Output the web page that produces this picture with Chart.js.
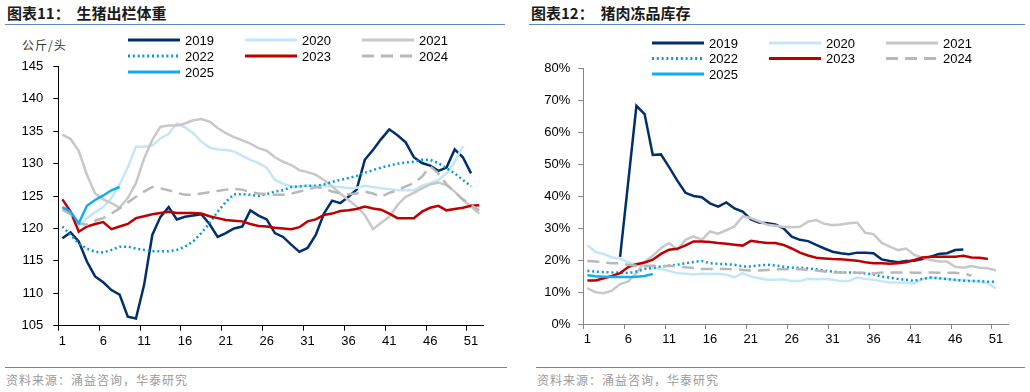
<!DOCTYPE html>
<html>
<head>
<meta charset="utf-8">
<script src="https://cdn.jsdelivr.net/npm/chart.js@4/dist/chart.umd.min.js"></script>
<style>
    body { margin: 0; background: #fff; }
    #page { position: relative; width: 1030px; height: 392px; overflow: hidden; font-family: "Noto Sans CJK SC", sans-serif; }
    .title { position: absolute; top: 3px; font-size: 15px; font-weight: bold; color: #1a1a1a; line-height: 20px; white-space: pre; }
    .rule { position: absolute; height: 1px; background: #5f86c0; }
    .source { position: absolute; top: 372px; font-size: 12px; color: #9a9a9a; letter-spacing: 1px; line-height: 16px; }
    .unit { position: absolute; left: 22px; top: 36px; font-size: 12px; color: #333; letter-spacing: 1px; }
    canvas { position: absolute; top: 30px; }
</style>
</head>
<body>
<div id="page">
    <div class="title" style="left:7px">图表11：  生猪出栏体重</div>
    <div class="rule" style="left:5px; width:500px; top:24px"></div>
    <div class="title" style="left:531px">图表12：  猪肉冻品库存</div>
    <div class="rule" style="left:529px; width:496px; top:24px"></div>
    <div class="unit">公斤/头</div>
    <canvas id="weight" width="510" height="340" style="left:0"></canvas>
    <canvas id="stock" width="505" height="340" style="left:525px"></canvas>
    <div class="rule" style="left:5px; width:502px; top:367px"></div>
    <div class="rule" style="left:536px; width:489px; top:367px"></div>
    <div class="source" style="left:6px">资料来源：涌益咨询，华泰研究</div>
    <div class="source" style="left:537px">资料来源：涌益咨询，华泰研究</div>
</div>
<script>
const weeks = ['1','2','3','4','5','6','7','8','9','10','11','12','13','14','15','16','17','18','19','20',
    '21','22','23','24','25','26','27','28','29','30','31','32','33','34','35','36','37','38','39','40',
    '41','42','43','44','45','46','47','48','49','50','51','52'];
const years = ['2019', '2020', '2021', '2022', '2023', '2024', '2025'];

// 生猪出栏体重 (公斤/头)
const weight2019 = [118.5,119.4,118.0,114.9,112.6,111.7,110.5,109.8,106.4,106.1,
    111.3,119.0,121.8,123.3,121.4,121.8,122.0,122.2,120.7,118.7,
    119.3,120.0,120.3,122.8,122.0,121.4,119.3,118.7,117.5,116.4,
    117.0,119.0,122.3,124.3,123.9,124.9,126.0,130.6,132.1,133.8,
    135.3,134.4,133.3,131.0,130.1,129.7,128.9,129.4,132.2,131.0,
    128.5];
const weight2020 = [123.0,122.3,120.3,121.6,122.5,123.3,124.7,126.8,129.4,132.6,
    132.6,132.8,133.9,134.6,136.2,135.6,134.7,133.4,132.5,132.2,
    132.1,131.9,131.2,130.6,130.1,129.4,127.5,126.9,126.5,126.5,
    126.6,126.5,126.6,126.5,126.4,126.2,126.3,126.6,126.4,126.2,
    126.1,125.9,125.9,125.9,126.6,127.0,127.5,128.5,130.3,132.7];
const weight2021 = [134.5,133.8,132.0,128.3,125.4,124.5,123.9,123.2,124.7,127.0,
    130.8,133.7,135.7,135.9,135.9,136.2,136.7,136.9,136.5,135.5,
    134.7,134.1,133.6,133.1,132.4,132.0,131.0,130.3,129.8,129.0,
    128.7,128.3,127.5,126.5,125.4,124.4,123.4,122.1,119.9,120.9,
    121.8,123.6,124.9,125.5,126.2,126.8,127.1,126.7,125.7,124.4,
    123.4,122.3];
const weight2022 = [120.3,119.0,117.7,116.9,116.4,116.3,116.7,117.2,117.2,116.9,
    116.7,116.5,116.5,116.5,116.7,117.2,118.0,119.3,120.8,122.6,
    124.1,125.3,125.3,125.2,125.0,125.3,125.7,125.9,126.4,126.5,
    126.6,126.6,126.8,127.2,127.5,127.8,128.1,128.6,129.0,129.4,
    129.7,130.0,130.2,130.3,130.6,130.6,130.1,129.3,128.5,127.5,
    126.5];
const weight2023 = [124.5,122.6,119.5,120.3,120.7,121.0,119.9,120.3,120.7,121.6,
    121.9,122.2,122.4,122.6,122.4,122.4,122.4,122.3,121.9,121.6,
    121.3,121.2,121.1,120.7,120.4,120.3,120.1,120.0,119.9,120.2,
    121.1,121.4,122.1,122.3,122.7,122.8,123.0,123.4,123.1,122.9,
    122.3,121.6,121.6,121.6,122.6,123.2,123.5,122.8,123.0,123.2,
    123.5,123.6];
const weight2024 = [122.9,122.2,120.8,120.6,121.2,121.6,122.3,123.1,124.0,124.9,
    125.7,126.4,126.2,125.9,125.5,125.2,125.2,125.4,125.6,125.8,
    126.0,126.1,126.0,125.6,125.4,125.3,125.2,125.2,125.4,125.7,
    126.0,126.4,126.2,125.7,125.4,125.3,125.4,125.7,125.4,124.9,
    125.5,125.9,126.5,127.0,128.0,129.6,128.5,126.8,125.6,124.5,
    123.6,122.8];
const weight2025 = [123.3,122.6,120.8,123.5,124.4,125.1,125.9,126.4];
const weightTicks = [105, 145, 5];

// 猪肉冻品库存 (%)
const stock2019 = [null,null,null,null,21.0,44.5,68.2,65.6,52.8,53.0,
    49.0,44.8,41.0,40.0,39.6,37.7,36.7,38.0,36.1,35.1,
    32.7,31.7,31.5,31.1,29.9,27.3,26.3,25.9,24.7,23.6,
    22.6,22.1,21.8,22.3,22.3,22.1,20.2,19.7,19.3,19.7,
    19.8,20.3,21.0,21.9,22.1,23.1,23.3];
const stock2020 = [24.6,22.5,21.9,20.8,20.4,19.3,18.7,18.0,17.5,17.2,
    16.6,15.9,15.7,15.5,15.7,15.6,15.7,15.4,14.6,15.9,
    14.8,14.3,13.8,13.8,14.0,13.4,13.4,14.1,14.0,14.1,
    13.8,13.4,13.4,14.5,14.1,13.8,13.4,13.0,13.0,12.9,
    12.7,14.1,14.6,14.3,14.1,13.8,13.8,13.4,13.2,12.7,
    11.1];
const stock2021 = [11.2,9.9,9.6,10.4,12.5,13.3,15.9,19.5,21.3,23.7,
    25.3,23.2,26.3,27.4,26.3,28.9,28.2,29.3,30.5,33.6,
    33.1,32.1,31.0,30.7,30.4,30.2,30.4,32.0,32.5,31.3,
    30.9,31.1,31.5,31.7,28.5,28.1,25.4,24.2,23.1,23.6,
    21.6,20.7,20.0,19.5,19.5,17.9,17.6,18.1,17.6,17.4,
    16.7];
const stock2022 = [16.6,16.4,16.2,16.1,16.1,15.9,16.4,17.2,17.5,18.0,
    18.2,18.5,19.0,19.4,19.7,19.0,18.8,18.7,18.5,18.0,
    18.0,18.3,18.5,18.3,17.9,17.6,17.6,17.4,17.1,16.7,
    16.4,16.1,16.1,16.0,15.8,15.5,14.8,14.5,14.1,13.8,
    13.5,14.1,14.5,14.3,14.0,13.8,13.5,13.4,13.4,13.2,
    13.2];
const stock2023 = [13.6,13.6,14.3,15.0,15.9,17.8,18.7,19.2,20.1,21.9,
    23.2,23.5,24.6,25.8,25.8,25.6,25.3,25.1,24.8,24.5,
    26.0,25.6,25.3,25.3,24.7,23.6,22.3,21.4,20.7,20.5,
    20.3,20.2,20.0,19.8,19.3,19.0,19.0,18.8,19.0,19.3,
    20.0,20.8,21.0,21.0,21.0,21.0,21.3,20.8,20.7,20.3];
const stock2024 = [19.7,19.5,19.2,19.0,19.0,18.5,18.2,18.2,18.2,18.0,
    18.2,18.0,17.7,17.5,17.2,17.2,17.2,17.2,17.1,16.9,
    16.7,16.7,16.9,17.1,17.1,17.1,17.1,16.9,16.7,16.4,
    16.1,16.1,16.1,16.0,16.0,15.8,16.1,16.1,16.1,16.1,
    16.0,16.0,16.1,16.0,16.0,16.0,15.8,15.1];
const stock2025 = [15.2,14.9,14.8,14.7,14.7,14.7,14.8,15.0,15.6];
const stockTicks = [0, 80, 10];

const lineColors = ['#00306b', '#c3e7f8', '#c8c8c8', '#0a9ad8', '#c00000', '#b8b8b8', '#10aef0'];
const lineDashes = [[], [], [], [2, 2.8], [], [12, 7], []];

Chart.defaults.font.family = '"Liberation Sans", Arial, sans-serif';
Chart.defaults.font.size = 13;
Chart.defaults.color = '#000';

// legend in three columns, drawn over the top of the plot
const gridLegend = {
    id: 'gridLegend',
    afterDraw(chart, args, opts) {
        const ctx = chart.ctx;
        chart.data.datasets.forEach((ds, i) => {
            const x = opts.x + (i % 3) * opts.colGap;
            const y = opts.y + Math.floor(i / 3) * opts.rowGap;
            ctx.save();
            ctx.strokeStyle = ds.borderColor;
            ctx.lineWidth = 3;
            ctx.setLineDash(ds.borderDash);
            ctx.beginPath();
            ctx.moveTo(x, y);
            ctx.lineTo(x + 52, y);
            ctx.stroke();
            ctx.setLineDash([]);
            ctx.fillStyle = '#000';
            ctx.font = '13px "Liberation Sans", Arial, sans-serif';
            ctx.textBaseline = 'middle';
            ctx.fillText(ds.label, x + 57, y + 1);
            ctx.restore();
        });
    }
};

function drawChart(id, series, yTicks, opt) {
    const datasets = series.map((values, i) => ({
        label: years[i],
        data: values,
        borderColor: lineColors[i],
        borderDash: lineDashes[i],
        borderWidth: 2.5,
        pointRadius: 0,
        tension: 0,
        fill: false,
        order: 10 - i
    }));
    return new Chart(document.getElementById(id), {
        type: 'line',
        data: { labels: weeks, datasets: datasets },
        plugins: [gridLegend],
        options: {
            responsive: false,
            animation: false,
            devicePixelRatio: 1,
            layout: { padding: opt.padding },
            plugins: {
                legend: { display: false },
                tooltip: { enabled: false },
                gridLegend: opt.legend
            },
            scales: {
                x: {
                    offset: true,
                    border: { color: opt.axisColor, width: 1 },
                    grid: {
                        offset: true,
                        drawOnChartArea: false,
                        tickLength: 5,
                        color: c => c.index % 5 === 0 ? opt.axisColor : 'rgba(0,0,0,0)'
                    },
                    ticks: {
                        autoSkip: false,
                        maxRotation: 0,
                        padding: 3,
                        callback: (v, i) => i % 5 === 0 ? weeks[i] : ''
                    },
                    afterFit: s => { s.height = 30; }
                },
                y: {
                    min: yTicks[0],
                    max: yTicks[1],
                    border: { color: opt.axisColor, width: 1 },
                    grid: { drawOnChartArea: false, tickLength: 5, color: opt.axisColor },
                    ticks: { stepSize: yTicks[2], padding: opt.yPad, callback: opt.fmt },
                    afterFit: s => { s.width = 58.3; }
                }
            }
        }
    });
}

drawChart('weight',
    [weight2019, weight2020, weight2021, weight2022, weight2023, weight2024, weight2025],
    weightTicks, {
        padding: { top: 36.5, right: 26.7, bottom: 14.3, left: 0 },
        axisColor: '#000',
        yPad: 10,
        fmt: v => v,
        legend: { x: 128, y: 10, colGap: 117, rowGap: 16 }
    });

drawChart('stock',
    [stock2019, stock2020, stock2021, stock2022, stock2023, stock2024, stock2025],
    stockTicks, {
        padding: { top: 38, right: 21.7, bottom: 16, left: 0 },
        axisColor: '#868686',
        yPad: 8,
        fmt: v => v + '%',
        legend: { x: 127, y: 13, colGap: 117, rowGap: 15.5 }
    });
</script>
</body>
</html>
